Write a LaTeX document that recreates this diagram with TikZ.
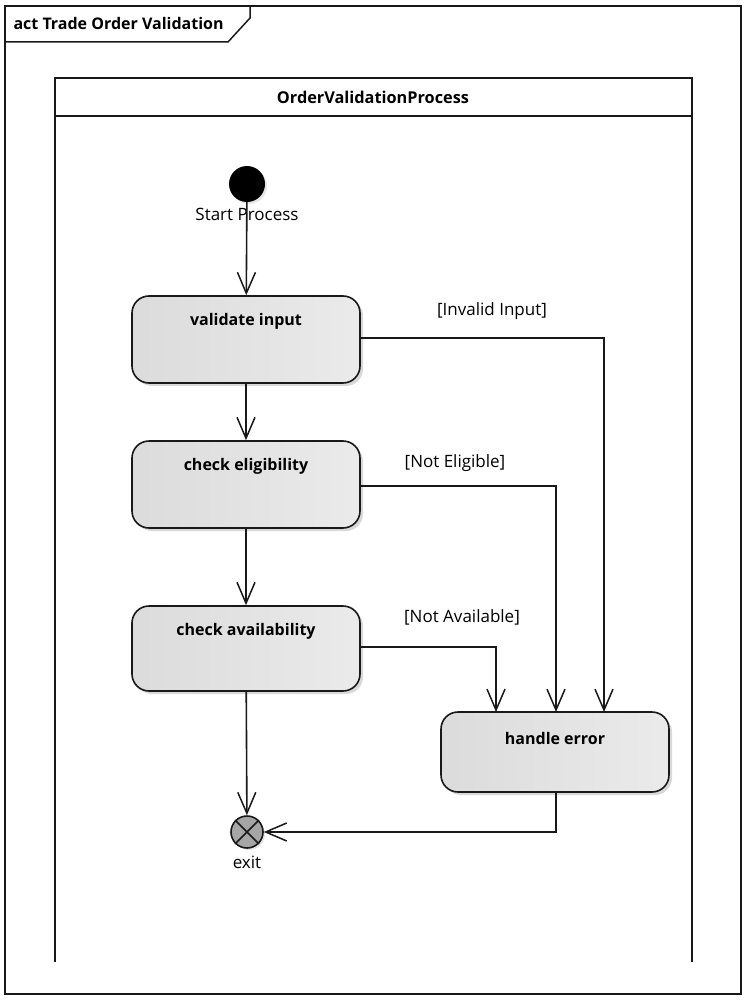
\documentclass[tikz,border=0pt]{standalone}
\usepackage{fontspec}
\setmainfont{Open Sans}
\usetikzlibrary{arrows.meta,shadows}
\begin{document}
\begin{tikzpicture}[x=1pt,y=-1pt,
  every node/.style={font=\fontsize{17}{19}\selectfont},
  frameline/.style={draw=black!90,line width=1.5pt},
  act/.style={draw=black!90,line width=1.6pt,rounded corners=17pt,
    minimum width=228pt,minimum height=87pt,inner sep=0pt,
    left color=black!14,right color=black!8,
    drop shadow={shadow xshift=3pt,shadow yshift=-3pt,opacity=0.25,fill=black!60}},
  acttext/.style={font=\fontsize{16}{18}\selectfont\bfseries,anchor=center},
  guard/.style={font=\fontsize{17}{19}\selectfont},
  flow/.style={draw=black!90,line width=1.6pt,-{Straight Barb[length=21pt,width=18pt,line width=1.5pt]}},
]
\useasboundingbox (0,0) rectangle (746,1000);
% outer frame
\draw[frameline] (5,6) rectangle (741,994);
\draw[frameline] (5,42) -- (228,42) -- (250,18) -- (250,6);
\node[anchor=west,font=\fontsize{16}{18}\selectfont\bfseries] (title) at (10,24) {act Trade Order Validation};
% partition
\draw[frameline] (55,962) -- (55,78) -- (692,78) -- (692,962);
\draw[frameline] (55,116) -- (692,116);
\node[font=\fontsize{16.3}{18}\selectfont\bfseries] (part) at (373,97) {OrderValidationProcess};
% start
\node[circle,fill=black,minimum size=36pt,inner sep=0pt,
  drop shadow={shadow xshift=2pt,shadow yshift=-2pt,opacity=0.2}] (start) at (247,184) {};
\node[guard] (startlbl) at (247,214) {Start Process};
% actions
\node[act] (val) at (246,339.5) {};
\node[acttext] at ([yshift=-26pt]val.north) {validate input};
\node[act] (elig) at (246,484.5) {};
\node[acttext] at ([yshift=-26pt]elig.north) {check eligibility};
\node[act,minimum height=85pt] (avail) at (246,648.5) {};
\node[acttext] at ([yshift=-26pt]avail.north) {check availability};
\node[act,minimum height=80pt] (err) at (555,752) {};
\node[acttext] at ([yshift=-27pt]err.north) {handle error};
% exit
\node[circle,draw=black!90,line width=1.6pt,fill=black!35,minimum size=32pt,inner sep=0pt,
  drop shadow={shadow xshift=2pt,shadow yshift=-2pt,opacity=0.2}] (exit) at (247,832) {};
\draw[line width=1.5pt,black!90] (exit.north east) -- (exit.south west);
\draw[line width=1.5pt,black!90] (exit.north west) -- (exit.south east);
\node[guard] (exitlbl) at (247,862) {exit};
% flows
\draw[flow] (start) -- (val);
\draw[flow] (val) -- (elig);
\draw[flow] (elig) -- (avail);
\draw[flow] (avail) -- (exit);
\draw[flow] (val.east |- 0,338) -- (604,338) -- (604,712);
\draw[flow] (elig.east |- 0,486) -- (556,486) -- (556,712);
\draw[flow] (avail.east |- 0,647) -- (496,647) -- (496,712);
\draw[flow] (err.south -| 556,0) -- (556,832) -- (exit.east);
\node[guard] (g1) at (492,311) {[Invalid Input]};
\node[guard] (g2) at (455,463) {[Not Eligible]};
\node[guard] (g3) at (462,617) {[Not Available]};
\end{tikzpicture}
\end{document}
